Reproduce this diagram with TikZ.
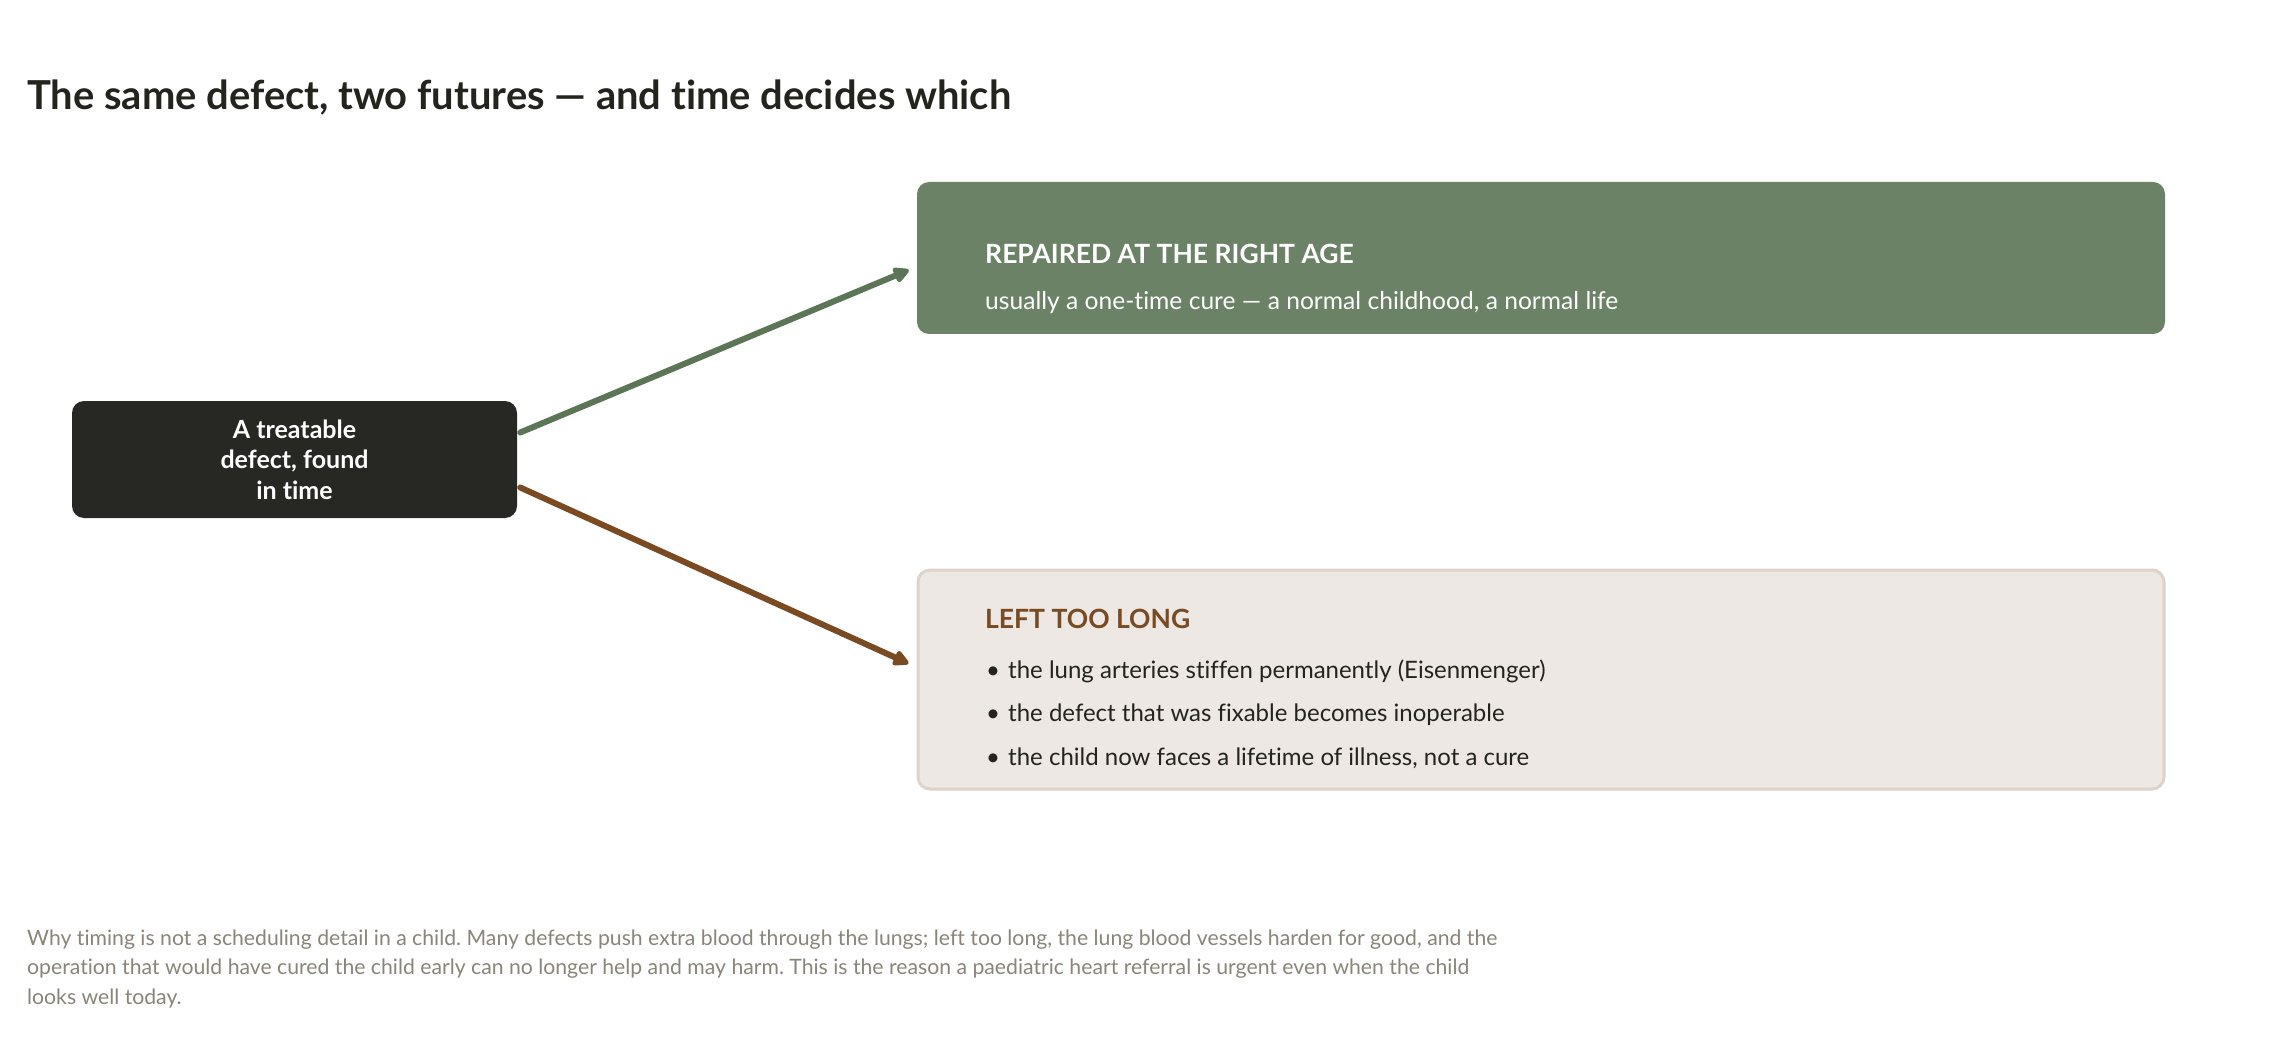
\documentclass[tikz,border=0pt]{standalone}
\usepackage{fontspec}
\setmainfont{Lato}[Ligatures={NoCommon}]
\frenchspacing
\usetikzlibrary{arrows.meta,calc}
\definecolor{ink}{HTML}{24241F}
\definecolor{darkbox}{HTML}{272823}
\definecolor{greenbox}{HTML}{6B8266}
\definecolor{greenline}{HTML}{5B7556}
\definecolor{brownline}{HTML}{7A4A22}
\definecolor{lightbox}{HTML}{EDE8E4}
\definecolor{lightborder}{HTML}{DDD3CA}
\definecolor{note}{HTML}{8A857A}
\tikzset{
  boxbase/.style={rectangle, rounded corners=12pt, inner sep=0pt},
  txt/.style={anchor=base west, inner sep=0pt},
  conn/.style={line width=6pt, line cap=round, -{Triangle[length=18pt,width=17pt,round]}},
}
\begin{document}
\begin{tikzpicture}[x=1pt,y=-1pt]
\useasboundingbox[fill=white] (0,0) rectangle (2280,1040);
% title
\node[txt, text=ink, font=\fontsize{39.9}{48}\selectfont\bfseries] (title) at (27,110) {The same defect, two futures — and time decides which};
% left box
\node[boxbase, fill=darkbox, minimum width=445pt, minimum height=117pt, text=white, align=center,
  font=\fontsize{25}{30.5}\selectfont\bfseries] (src) at (294.5,459.5) {A treatable\\defect, found\\in time};
% green box
\node[boxbase, fill=greenbox, minimum width=1248pt, minimum height=152pt] (good) at (1541,258) {};
\node[txt, text=white, font=\fontsize{26.5}{30}\selectfont\bfseries] (goodt) at (985,264) {REPAIRED AT THE RIGHT AGE};
\node[txt, text=white, font=\fontsize{24.6}{30}\selectfont] (goods) at (985,310) {usually a one-time cure — a normal childhood, a normal life};
% brown box
\node[boxbase, fill=lightbox, draw=lightborder, line width=3pt, minimum width=1246pt, minimum height=219pt] (bad) at (1541,679.5) {};
\node[txt, text=brownline, font=\fontsize{26.5}{30}\selectfont\bfseries] (badt) at (985,628) {LEFT TOO LONG};
\node[txt, text=ink, font=\fontsize{24}{30}\selectfont] (b1d) at (986,678) {•};
\node[txt, text=ink, font=\fontsize{24}{30}\selectfont] (b1) at (1008,678) {the lung arteries stiffen permanently (Eisenmenger)};
\node[txt, text=ink, font=\fontsize{24}{30}\selectfont] (b2d) at (986,721) {•};
\node[txt, text=ink, font=\fontsize{24}{30}\selectfont] (b2) at (1008,721) {the defect that was fixable becomes inoperable};
\node[txt, text=ink, font=\fontsize{24}{30}\selectfont] (b3d) at (986,765) {•};
\node[txt, text=ink, font=\fontsize{24}{30}\selectfont] (b3) at (1008,765) {the child now faces a lifetime of illness, not a cure};
% connectors
\draw[conn, greenline] ($(src.east)+(3,-27)$) -- ($(good.west)+(-8,12)$);
\draw[conn, brownline] ($(src.east)+(3,28)$) -- ($(bad.west)+(-8,-16)$);
% footnote
\node[txt, text=note, font=\fontsize{21.2}{29}\selectfont] (fn1) at (27,945) {Why timing is not a scheduling detail in a child. Many defects push extra blood through the lungs; left too long, the lung blood vessels harden for good, and the};
\node[txt, text=note, font=\fontsize{21.2}{29}\selectfont] (fn2) at (27,974.5) {operation that would have cured the child early can no longer help and may harm. This is the reason a paediatric heart referral is urgent even when the child};
\node[txt, text=note, font=\fontsize{21.2}{29}\selectfont] (fn3) at (27,1004) {looks well today.};
\end{tikzpicture}
\end{document}
